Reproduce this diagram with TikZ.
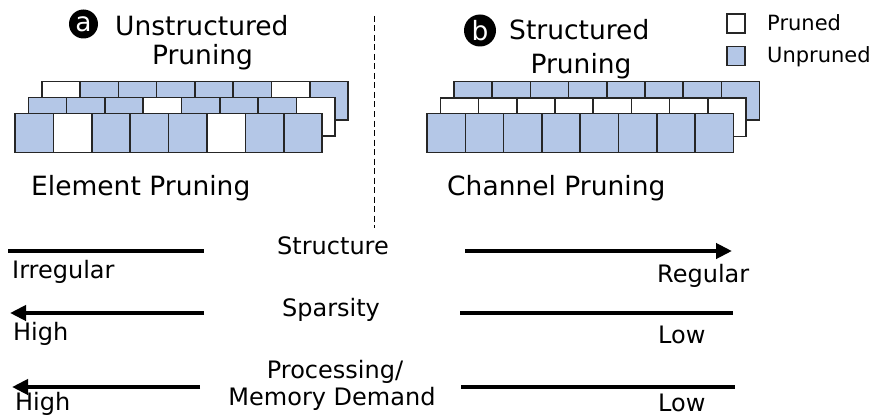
\documentclass[tikz,border=0pt]{standalone}
\usepackage{fontspec}
\setmainfont{DejaVu Sans}
\usetikzlibrary{arrows.meta}
\definecolor{unp}{RGB}{180,199,231}
\definecolor{pr}{RGB}{255,255,255}
\tikzset{
  cell/.style={draw=black!85,line width=1.6pt},
  lbl/.style={inner sep=0pt,font=\fontsize{24}{28}\selectfont},
  ttl/.style={inner sep=0pt,font=\fontsize{26.5}{30}\selectfont},
  leg/.style={inner sep=0pt,font=\fontsize{21}{25}\selectfont},
  bar/.style={line width=4pt},
  arr/.style={line width=4pt,-{Triangle[length=16pt,width=15pt]}},
  badge/.style={circle,fill=black,inner sep=0pt},
}
\begin{document}
\begin{tikzpicture}[x=1pt,y=-1pt]
\useasboundingbox (0,0) rectangle (874,417);

% ---------- left grid (element pruning)
\foreach \f [count=\i from 0] in {pr,unp,unp,unp,unp,unp,pr,unp}
  \filldraw[cell,fill=\f] (41.7+38.3*\i,81.7) rectangle ++(38.3,38.5);
\foreach \f [count=\i from 0] in {unp,unp,unp,pr,unp,unp,unp,pr}
  \filldraw[cell,fill=\f] (28.3+38.3*\i,97.7) rectangle ++(38.3,38.5);
\foreach \f [count=\i from 0] in {unp,pr,unp,unp,unp,pr,unp,unp}
  \filldraw[cell,fill=\f] (15+38.4*\i,113.3) rectangle ++(38.4,39);

% ---------- right grid (channel pruning)
\foreach \i in {0,...,7}
  \filldraw[cell,fill=unp] (454+38.2*\i,81.5) rectangle ++(38.2,38.5);
\foreach \i in {0,...,7}
  \filldraw[cell,fill=pr] (440.3+38.2*\i,98) rectangle ++(38.2,38.5);
\foreach \i in {0,...,7}
  \filldraw[cell,fill=unp] (427+38.3*\i,113.3) rectangle ++(38.3,39);

% ---------- titles
\node[badge,minimum size=29pt] (ba) at (83.5,24) {};
\node[ttl,text=white] at (ba) {a};
\node[ttl,anchor=base west] (ta1) at (115,36) {Unstructured};
\node[ttl,anchor=base] (ta2) at (202.5,65) {Pruning};
\node[badge,minimum size=32pt] (bb) at (480,30.5) {};
\node[ttl,text=white] at (bb) {b};
\node[ttl,anchor=base west] (tb1) at (509,40) {Structured};
\node[ttl,anchor=base] (tb2) at (581,74) {Pruning};

\node[ttl,anchor=base west] (ep) at (31,195) {Element Pruning};
\node[ttl,anchor=base west] (cp) at (447,195) {Channel Pruning};

% ---------- legend
\node[draw=black!85,line width=1.3pt,fill=pr,minimum width=18pt,minimum height=19pt,inner sep=0pt] (lp) at (736,23.5) {};
\node[draw=black!85,line width=1.3pt,fill=unp,minimum width=18pt,minimum height=19pt,inner sep=0pt] (lu) at (736,56) {};
\node[leg,anchor=base west] at (767,31) {Pruned};
\node[leg,anchor=base west] at (767,63) {Unpruned};

% ---------- divider
\coordinate (d1) at (374.5,16);
\coordinate (d2) at (374.5,228);
\draw[line width=1.2pt,dash pattern=on 6pt off 3.5pt] (d1) -- (d2);

% ---------- bottom scales
\coordinate (l1a) at (8,251);   \coordinate (l1b) at (204,251);
\coordinate (r1a) at (465,251); \coordinate (r1b) at (732,251);
\coordinate (l2a) at (204,313); \coordinate (l2b) at (10,313);
\coordinate (r2a) at (460,313); \coordinate (r2b) at (733,313);
\coordinate (l3a) at (200,387); \coordinate (l3b) at (12,387);
\coordinate (r3a) at (461,387); \coordinate (r3b) at (735,387);

\draw[bar] (l1a) -- (l1b);
\draw[arr] (r1a) -- (r1b);
\draw[arr] (l2a) -- (l2b);
\draw[bar] (r2a) -- (r2b);
\draw[arr] (l3a) -- (l3b);
\draw[bar] (r3a) -- (r3b);

\node[lbl,anchor=base west] at (12,278) {Irregular};
\node[lbl,anchor=base west] at (13,340) {High};
\node[lbl,anchor=base west] at (15,410.5) {High};
\node[lbl,anchor=base west] at (657,282) {Regular};
\node[lbl,anchor=base west] at (658,343) {Low};
\node[lbl,anchor=base west] at (658,411) {Low};

\node[lbl,anchor=base] at (333,254) {Structure};
\node[lbl,anchor=base] at (331,316) {Sparsity};
\node[lbl,anchor=base] at (335,378) {Processing/};
\node[lbl,anchor=base] at (332,405) {Memory Demand};
\end{tikzpicture}
\end{document}
